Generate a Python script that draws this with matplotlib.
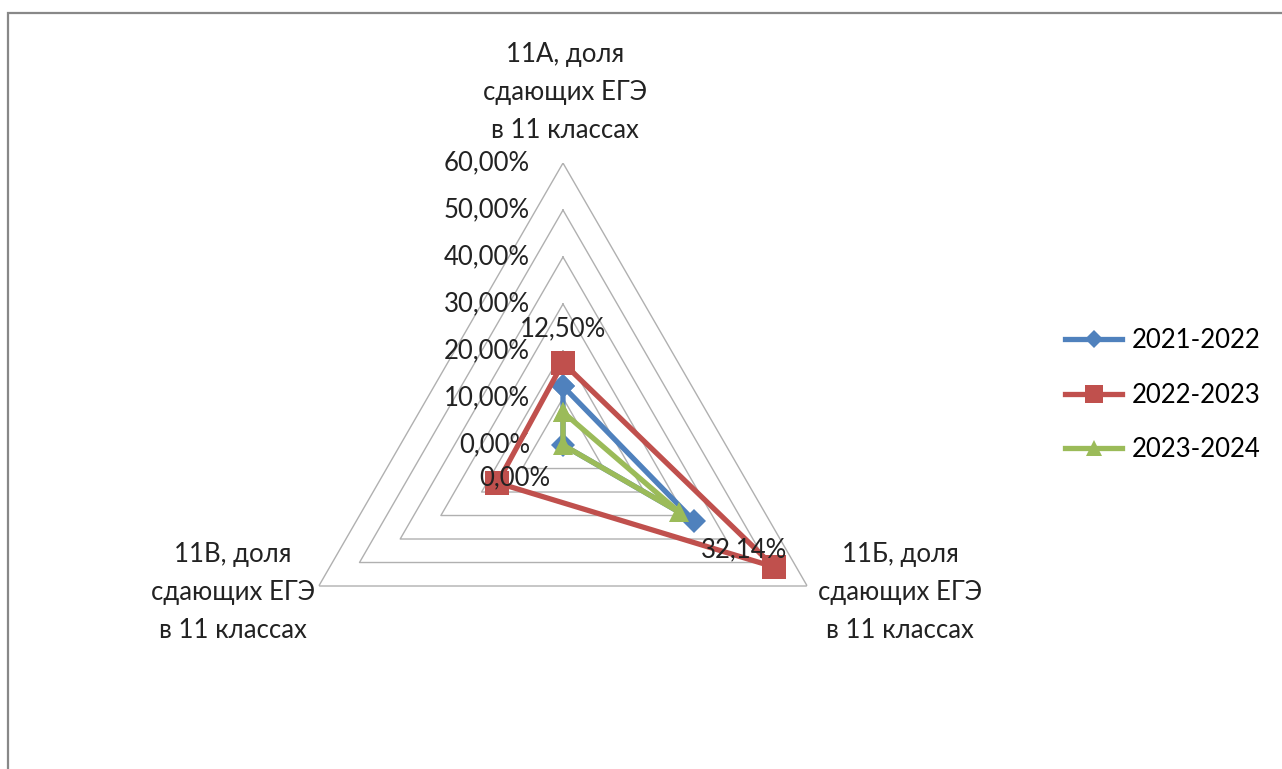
import numpy as np
import matplotlib.pyplot as plt
from matplotlib.patches import Rectangle

plt.rcParams['font.family'] = ['Lato', 'DejaVu Sans']

categories = ['11А, доля\nсдающих ЕГЭ\nв 11 классах',
              '11Б, доля\nсдающих ЕГЭ\nв 11 классах',
              '11В, доля\nсдающих ЕГЭ\nв 11 классах']
years = ['2021-2022', '2022-2023', '2023-2024']
s2122 = [12.50, 32.14, 0.00]
s2223 = [17.5, 51.9, 16.1]
s2324 = [7.0, 28.57, 0.0]
ring_levels = [0, 10, 20, 30, 40, 50, 60]

def pct(v):
    return f'{v:.2f}%'.replace('.', ',')

fig = plt.figure(figsize=(12.82, 7.69), dpi=100)
ax = fig.add_axes([0.2192, 0.0546, 0.4399, 0.7334], projection='polar')
ax.set_theta_zero_location('N')
ax.set_theta_direction(-1)
ax.set_ylim(0, 60)
ax.grid(False)
ax.spines['polar'].set_visible(False)
ax.set_xticks([])
ax.set_yticks([])
ax.patch.set_alpha(0)

theta = np.deg2rad([0, 120, 240])
theta_c = np.append(theta, theta[0])

# triangular gridlines
for lv in ring_levels[1:]:
    ax.plot(theta_c, [lv] * 4, color='#b0b0b0', lw=1.0, zorder=1)

# axis labels
for lv in ring_levels:
    ax.annotate(pct(lv), xy=(0, lv), xytext=(-33, 0), textcoords='offset pixels',
                ha='right', va='center', fontsize=18.5, color='#222222')

# category labels
cat_offsets = [(2, 71), (93, -6), (-86, -6)]
for t, name, off in zip(theta, categories, cat_offsets):
    ax.annotate(name, xy=(t, 60), xytext=off, textcoords='offset pixels',
                ha='center', va='center', fontsize=18.5, color='#222222',
                multialignment='center', linespacing=1.65)

series = [s2122, s2223, s2324]
colors = ['#4F81BD', '#C0504D', '#9BBB59']
markers = ['D', 's', '^']
msizes = [12, 17, 15]
for vals, name, c, m, ms in zip(series, years, colors, markers, msizes):
    v = np.append(vals, vals[0])
    ax.plot(theta_c, v, color=c, lw=3.8, marker=m, markersize=ms,
            markeredgewidth=0, label=name, zorder=3)

# data labels for 2021-2022
lab_offsets = [(0, 57), (50, -29), (-48, -33)]
for t, v, off in zip(theta, s2122, lab_offsets):
    ax.annotate(pct(v), xy=(t, v), xytext=off, textcoords='offset pixels',
                ha='center', va='center', fontsize=18.5, color='#222222', zorder=5)

handles, labels = ax.get_legend_handles_labels()
leg = fig.legend(handles, labels, loc='center left', bbox_to_anchor=(0.813, 0.486),
                 frameon=False, fontsize=18.5, handlelength=2.2, labelspacing=1.15,
                 handletextpad=0.4, markerscale=0.8)

fig.add_artist(Rectangle((8 / 1282, -0.5), 2, 0.5 + 1 - 13 / 769, fill=False,
                         edgecolor='#888888', lw=1.6, transform=fig.transFigure))

fig.savefig('out.png', dpi=100)
